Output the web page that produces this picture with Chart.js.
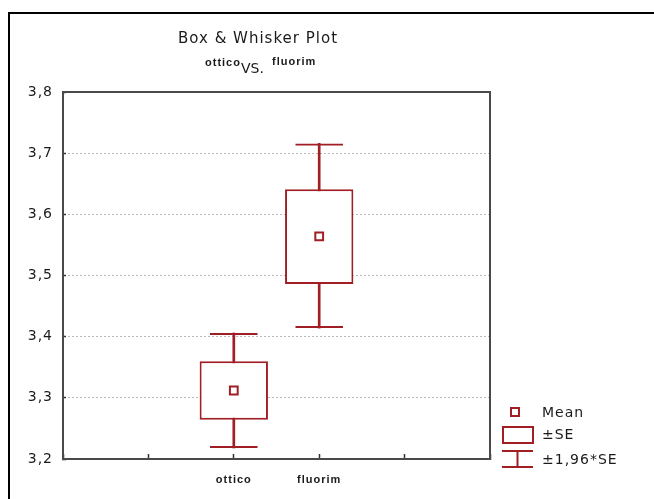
<!DOCTYPE html>
<html>
<head>
<meta charset="utf-8">
<script src="https://cdn.jsdelivr.net/npm/chart.js@4/dist/chart.umd.min.js"></script>
<style>
  html, body { margin: 0; padding: 0; background: #fff; }
  canvas { display: block; }
</style>
</head>
<body>
<canvas id="chart" width="654" height="499"></canvas>
<script>
// values
const groups = ['ottico', 'fluorim'];
const xLabels = ['', '', 'ottico', 'fluorim', '', ''];
const meanValues = [3.312, 3.564];
const seLow = [3.264, 3.486];
const seHigh = [3.360, 3.641];
const ciLow = [3.218, 3.414];
const ciHigh = [3.406, 3.716];
const yTickLabels = ['3,2', '3,3', '3,4', '3,5', '3,6', '3,7', '3,8'];

const RED = '#a01e24';
const AXIS = '#4a4a4a';
const TEXT = '#1a1a1a';

// spread a per-group array over the x labels
const pad = (fn) => xLabels.map(l => {
    const i = groups.indexOf(l);
    return i < 0 ? null : fn(i);
});

const pagePlugin = {
    id: 'page',
    beforeDraw(chart) {
        const ctx = chart.ctx;
        ctx.save();
        ctx.fillStyle = '#fff';
        ctx.fillRect(0, 0, chart.width, chart.height);
        ctx.strokeStyle = '#000';
        ctx.lineWidth = 2;
        ctx.strokeRect(9, 13, 800, 700);
        ctx.restore();
        ctx.letterSpacing = '1px';
    },
    beforeDatasetsDraw(chart) {
        const {ctx, chartArea: a} = chart;
        ctx.save();
        ctx.strokeStyle = AXIS;
        ctx.lineWidth = 2;
        ctx.beginPath();
        ctx.moveTo(a.left, a.top);
        ctx.lineTo(a.right, a.top);
        ctx.lineTo(a.right, a.bottom);
        ctx.stroke();
        ctx.restore();
    },
    afterDraw(chart) {
        const ctx = chart.ctx;
        ctx.save();
        ctx.letterSpacing = '1px';
        ctx.fillStyle = TEXT;
        ctx.textBaseline = 'middle';
        ctx.textAlign = 'left';

        ctx.font = '15px "DejaVu Sans"';
        ctx.fillText('Box & Whisker Plot', 178, 39);
        ctx.font = 'bold 11px "Liberation Sans"';
        ctx.fillText('ottico', 205, 63);
        ctx.fillText('fluorim', 272, 62);
        ctx.letterSpacing = '0px';
        ctx.font = '14px "DejaVu Sans"';
        ctx.fillText('VS.', 241, 69);
        ctx.letterSpacing = '1px';

        // legend
        ctx.strokeStyle = RED;
        ctx.lineWidth = 2;
        ctx.strokeRect(511, 408, 8, 8);
        ctx.strokeRect(503, 427, 30, 16);
        ctx.beginPath();
        ctx.moveTo(502, 451); ctx.lineTo(533, 451);
        ctx.moveTo(502, 467); ctx.lineTo(533, 467);
        ctx.moveTo(517.5, 451); ctx.lineTo(517.5, 467);
        ctx.stroke();

        ctx.fillText('Mean', 542, 413);
        ctx.fillText('±SE', 542, 435);
        ctx.fillText('±1,96*SE', 542, 460);
        ctx.restore();
    }
};

new Chart(document.getElementById('chart'), {
    type: 'bar',
    data: {
        labels: xLabels,
        datasets: [
            {
                label: 'Mean',
                type: 'line',
                data: pad(i => meanValues[i]),
                showLine: false,
                pointStyle: 'rect',
                pointRadius: 5.5,
                pointBorderWidth: 2,
                pointBackgroundColor: '#fff',
                pointBorderColor: RED,
                order: 1,
            },
            {
                label: '±SE',
                data: pad(i => [seLow[i], seHigh[i]]),
                backgroundColor: '#fff',
                borderColor: RED,
                borderWidth: 2,
                borderSkipped: false,
                categoryPercentage: 0.8,
                barPercentage: 1,
                grouped: false,
                order: 2,
            },
            {
                label: '±1,96*SE',
                data: pad(i => [ciLow[i], ciHigh[i]]),
                backgroundColor: 'rgba(0,0,0,0)',
                borderColor: RED,
                borderWidth: {top: 2, bottom: 2, left: 0, right: 0},
                borderSkipped: false,
                categoryPercentage: 0.8,
                barPercentage: 0.7,
                grouped: false,
                order: 3,
            },
            {
                label: 'whisker',
                data: pad(i => [ciLow[i], ciHigh[i]]),
                backgroundColor: RED,
                barThickness: 2,
                grouped: false,
                order: 4,
            },
        ],
    },
    options: {
        responsive: false,
        animation: false,
        devicePixelRatio: 1,
        layout: {
            padding: {left: 0, top: 92, right: 164, bottom: 0},
        },
        scales: {
            x: {
                type: 'category',
                offset: false,
                grid: {
                    offset: false,
                    drawOnChartArea: false,
                    tickLength: -5,
                    tickColor: '#333',
                    tickWidth: 1.5,
                },
                border: {
                    color: AXIS,
                    width: 2,
                },
                ticks: {
                    autoSkip: false,
                    maxRotation: 0,
                    padding: 19,
                    color: TEXT,
                    font: {family: 'Liberation Sans', size: 11, weight: 'bold'},
                },
                afterFit: (s) => { s.height = 40; },
            },
            y: {
                min: 3.2,
                max: 3.8,
                grid: {
                    color: '#b8b8b8',
                    lineWidth: 1,
                    tickLength: -3,
                    tickColor: '#333',
                    tickWidth: 1.5,
                    tickBorderDash: [],
                },
                border: {
                    color: AXIS,
                    width: 2,
                    dash: [2, 2],
                },
                ticks: {
                    stepSize: 0.1,
                    padding: 13,
                    color: TEXT,
                    font: {family: 'DejaVu Sans', size: 14},
                    callback: (v, i) => yTickLabels[i],
                },
                afterFit: (s) => { s.width = 63; },
            },
        },
        plugins: {
            legend: {display: false},
            tooltip: {enabled: false},
            title: {display: false},
        },
    },
    plugins: [pagePlugin],
});
</script>
</body>
</html>
